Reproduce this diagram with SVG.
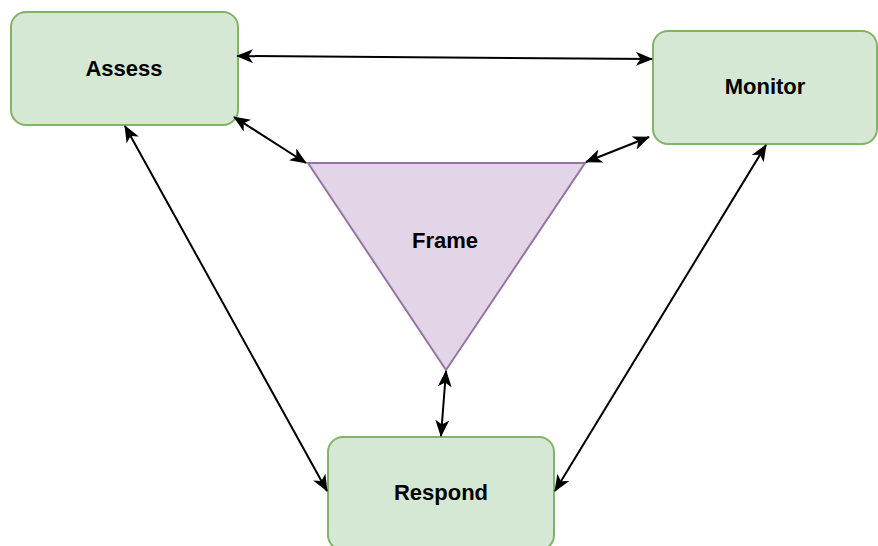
<svg xmlns="http://www.w3.org/2000/svg" width="878" height="546" viewBox="0 0 878 546">
  <style>
    .box { fill: #d5e8d4; stroke: #82b366; stroke-width: 2; }
    .tri { fill: #e1d5e7; stroke: #9673a6; stroke-width: 2; }
    .label { font-family: "Liberation Sans", Arial, Helvetica, sans-serif; font-weight: bold; font-size: 22px; fill: #000; text-anchor: middle; }
    .link { stroke: #000; stroke-width: 2; fill: none; }
  </style>
  <defs>
    <!-- classic notched arrowhead, used at both ends of every connector -->
    <marker id="arrow" viewBox="0 0 17 14" refX="16" refY="7" markerWidth="17" markerHeight="14" markerUnits="userSpaceOnUse" orient="auto-start-reverse">
      <path d="M0,0 L17,7 L0,14 L4.5,7 Z" fill="#000"/>
    </marker>
  </defs>
  <rect width="878" height="546" fill="#fff"/>

  <g id="assess">
    <rect class="box" x="11" y="12" width="227" height="113" rx="15" ry="15"/>
    <text class="label" x="124" y="75.5">Assess</text>
  </g>

  <g id="monitor">
    <rect class="box" x="653" y="31" width="224" height="113" rx="15" ry="15"/>
    <text class="label" x="765" y="94">Monitor</text>
  </g>

  <g id="respond">
    <rect class="box" x="328" y="437" width="226" height="113" rx="15" ry="15"/>
    <text class="label" x="441" y="500">Respond</text>
  </g>

  <g id="frame">
    <polygon class="tri" points="308,163 585,163 446,370"/>
    <text class="label" x="445" y="247.5">Frame</text>
  </g>

  <g id="connectors">
    <line class="link" x1="237" y1="56" x2="652" y2="59" marker-start="url(#arrow)" marker-end="url(#arrow)"/>
    <line class="link" x1="234" y1="117" x2="306" y2="163" marker-start="url(#arrow)" marker-end="url(#arrow)"/>
    <line class="link" x1="586" y1="162" x2="649" y2="137" marker-start="url(#arrow)" marker-end="url(#arrow)"/>
    <line class="link" x1="125" y1="126" x2="327" y2="491" marker-start="url(#arrow)" marker-end="url(#arrow)"/>
    <line class="link" x1="766" y1="145" x2="555" y2="491" marker-start="url(#arrow)" marker-end="url(#arrow)"/>
    <line class="link" x1="446" y1="371" x2="441" y2="436" marker-start="url(#arrow)" marker-end="url(#arrow)"/>
  </g>
</svg>
